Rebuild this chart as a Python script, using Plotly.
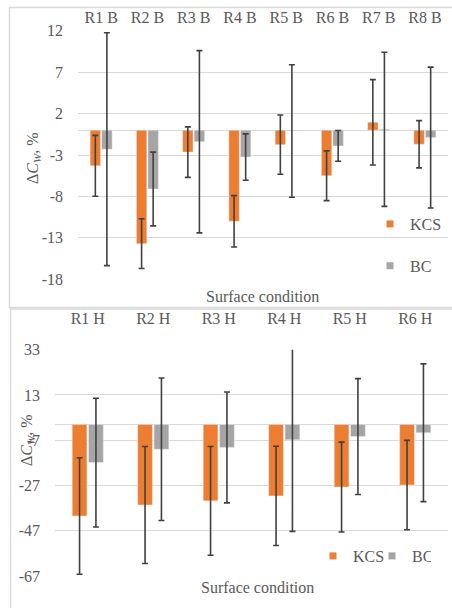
import plotly.graph_objects as go

# ---- data ----
cats_b = ["R1 B", "R2 B", "R3 B", "R4 B", "R5 B", "R6 B", "R7 B", "R8 B"]
kcs_b = [-4.3, -13.7, -2.65, -11.0, -1.75, -5.5, 0.95, -1.7]
kcs_b_err = [3.67, 3.0, 3.05, 3.1, 3.57, 3.0, 5.15, 2.85]
bc_b = [-2.3, -7.1, -1.4, -3.25, -0.1, -1.9, 0.1, -0.9]
bc_b_err = [14.05, 4.45, 11.0, 2.8, 8.0, 1.85, 9.3, 8.5]

cats_h = ["R1 H", "R2 H", "R3 H", "R4 H", "R5 H", "R6 H"]
kcs_h = [-40.5, -35.6, -33.8, -31.6, -27.7, -26.8]
kcs_h_err = [25.75, 25.85, 24.0, 21.95, 19.85, 19.75]
bc_h = [-16.9, -11.0, -10.2, -6.8, -5.4, -3.7]
bc_h_err = [28.45, 31.5, 24.5, 40.5, 25.6, 30.45]

ticks_b = [12, 7, 2, -3, -8, -13, -18]
ticks_h = [33, 13, -7, -27, -47, -67]

ORANGE = "#ED7D31"
GRAY = "#A5A5A5"
ERR = "#404040"
TXT = "#595959"
GRID = "#D9D9D9"
FONT = "Liberation Serif"

W, H = 452, 608

def px(x):
    return x / W

def py(y):
    return 1 - y / H

fig = go.Figure()

def err(arr):
    return dict(type="data", array=arr, visible=True, color=ERR, thickness=1.6, width=3)

fig.add_trace(go.Bar(x=cats_b, y=kcs_b, name="KCS", marker_color=ORANGE, error_y=err(kcs_b_err),
                     xaxis="x", yaxis="y", showlegend=False, cliponaxis=False))
fig.add_trace(go.Bar(x=cats_b, y=bc_b, name="BC", marker_color=GRAY, error_y=err(bc_b_err),
                     xaxis="x", yaxis="y", showlegend=False, cliponaxis=False))
fig.add_trace(go.Bar(x=cats_h, y=kcs_h, name="KCS", marker_color=ORANGE, error_y=err(kcs_h_err),
                     xaxis="x2", yaxis="y2", showlegend=False, cliponaxis=False))
fig.add_trace(go.Bar(x=cats_h, y=bc_h, name="BC", marker_color=GRAY, error_y=err(bc_h_err),
                     xaxis="x2", yaxis="y2", showlegend=False, cliponaxis=False))

# legend entries (small square swatches)
for name, col, lg, grp in [("KCS", ORANGE, "legend", "a"), ("BC", GRAY, "legend", "b"),
                           ("KCS", ORANGE, "legend2", None), ("BC", GRAY, "legend2", None)]:
    fig.add_trace(go.Scatter(x=[None], y=[None], mode="markers", name=name,
                             marker=dict(symbol="square", size=7, color=col),
                             legend=lg, legendgroup=grp, showlegend=True,
                             xaxis="x" if lg == "legend" else "x2",
                             yaxis="y" if lg == "legend" else "y2"))

axfont = dict(family=FONT, size=16, color=TXT)

def ann(text, x, y, angle=0):
    return dict(text=text, x=px(x), y=py(y), xref="paper", yref="paper",
                xanchor="center", yanchor="middle", showarrow=False,
                textangle=angle, font=axfont)

fig.update_layout(
    width=W, height=H,
    margin=dict(l=0, r=0, t=0, b=0, autoexpand=False),
    paper_bgcolor="white", plot_bgcolor="white",
    font=dict(family=FONT, size=16, color=TXT),
    barmode="group", bargap=0.5, bargroupgap=0.1,
    xaxis=dict(domain=[px(78), px(448)], anchor="y", side="top", ticks="",
               showline=False, showgrid=False, tickfont=axfont, ticklabelstandoff=4,
               type="category", automargin=False),
    yaxis=dict(domain=[py(279.3), py(30.7)], anchor="x", range=[-18, 12],
               tickvals=ticks_b, ticktext=[str(v) if v >= 0 else "-" + str(-v) for v in ticks_b],
               showgrid=True, gridcolor=GRID, gridwidth=1,
               zeroline=True, zerolinecolor=GRID, zerolinewidth=1,
               showline=False, ticks="", tickfont=axfont, ticklabelstandoff=14, automargin=False),
    xaxis2=dict(domain=[px(55), px(448)], anchor="y2", side="top", ticks="",
                showline=False, showgrid=False, tickfont=axfont, ticklabelstandoff=22,
                type="category", automargin=False),
    yaxis2=dict(domain=[py(576), py(349.7)], anchor="x2", range=[-67, 33],
                tickvals=ticks_h, ticktext=[str(v) if v >= 0 else "-" + str(-v) for v in ticks_h],
                showgrid=True, gridcolor=GRID, gridwidth=1,
                zeroline=True, zerolinecolor=GRID, zerolinewidth=1,
                showline=False, ticks="", tickfont=axfont, ticklabelstandoff=14, automargin=False),
    legend=dict(x=px(370), xanchor="left", y=py(207), yanchor="top",
                orientation="v", tracegroupgap=18, bgcolor="rgba(0,0,0,0)",
                font=dict(family=FONT, size=16, color=TXT), itemwidth=30),
    legend2=dict(x=px(313), xanchor="left", y=py(539), yanchor="top",
                 orientation="h", bgcolor="rgba(0,0,0,0)", entrywidth=14,
                 font=dict(family=FONT, size=16, color=TXT), itemwidth=30),
    annotations=[
        ann("Surface condition", 262, 296),
        ann("Surface condition", 257, 587),
        ann("Δ<i>C</i><sub><i>W</i></sub>, %", 33, 158, -90),
        ann("Δ<i>C</i><sub><i>W</i></sub>, %", 27, 440, -90),
    ],
    shapes=[
        dict(type="rect", xref="paper", yref="paper", x0=px(9.5), x1=px(455), y0=py(307.5), y1=py(7.5),
             line=dict(color=GRID, width=1.5), fillcolor="rgba(0,0,0,0)", layer="below"),
        dict(type="rect", xref="paper", yref="paper", x0=px(10.5), x1=px(455), y0=py(612), y1=py(309),
             line=dict(color=GRID, width=1.5), fillcolor="rgba(0,0,0,0)", layer="below"),
    ],
)

fig.write_html("out.html", config={"displayModeBar": False},
               post_script="document.body.style.margin='0px';document.body.style.overflow='hidden';")
